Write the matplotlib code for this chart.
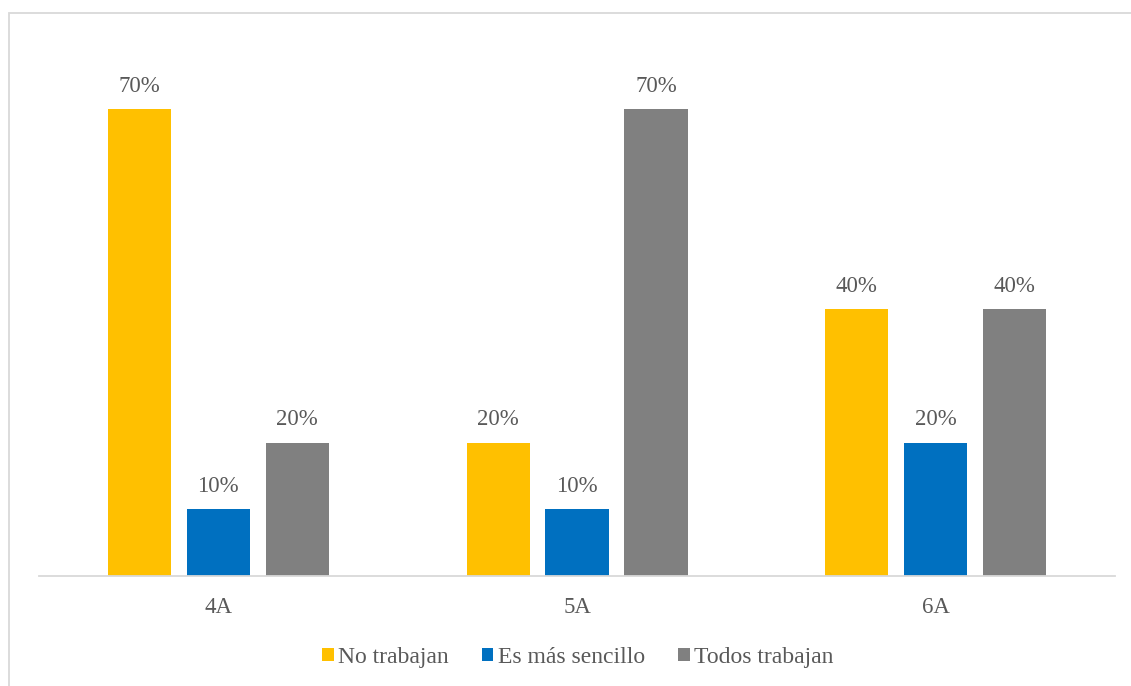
import matplotlib
matplotlib.use('Agg')
import matplotlib.pyplot as plt
import numpy as np
from matplotlib.patches import Rectangle

categories = ['4A', '5A', '6A']
series_names = ['No trabajan', 'Es más sencillo', 'Todos trabajan']
no_trabajan = [0.70, 0.20, 0.40]
es_mas_sencillo = [0.10, 0.10, 0.20]
todos_trabajan = [0.20, 0.70, 0.40]

colors = ['#FFC000', '#0070C0', '#808080']
TXT = '#595959'

plt.rcParams['font.family'] = ['Liberation Serif', 'DejaVu Serif']

fig = plt.figure(figsize=(11.31, 6.86), dpi=100)
ax = fig.add_axes([0.0345, 0.1603, 0.9514, 0.7779])

x = np.arange(len(categories))
width = 0.176
step = 0.22
for i, (vals, name, c) in enumerate(zip([no_trabajan, es_mas_sencillo, todos_trabajan],
                                        series_names, colors)):
    pos = x + (i - 1) * step
    bars = ax.bar(pos, vals, width, color=c, label=name)
    for b, v in zip(bars, vals):
        ax.annotate(f'{v:.0%}', (b.get_x() + b.get_width() / 2, v),
                    xytext=(0, 9), textcoords='offset points',
                    ha='center', va='bottom', fontsize=16.5, color=TXT)

ax.set_xlim(-0.5, 2.5)
ax.set_ylim(0, 0.8)
ax.set_yticks([])
ax.set_xticks(x)
ax.set_xticklabels(categories, fontsize=16.5, color=TXT)
ax.tick_params(axis='x', length=0, pad=15)
for s in ('top', 'right', 'left'):
    ax.spines[s].set_visible(False)
ax.spines['bottom'].set_color('#D9D9D9')
ax.spines['bottom'].set_linewidth(1.3)

leg = fig.legend(loc='center', bbox_to_anchor=(0.511, 0.042), ncol=3, frameon=False,
                 fontsize=17, handlelength=0.48, handleheight=0.48, handletextpad=0.2,
                 columnspacing=1.4)
for t in leg.get_texts():
    t.set_color(TXT)

# outer chart border (extends past the bottom/right edge)
fig.patches.append(Rectangle((9 / 1131, -0.05), 1.2, 1 - 13 / 686 + 0.05,
                             transform=fig.transFigure, fill=False,
                             edgecolor='#D9D9D9', linewidth=1.3))

fig.savefig('out.png', dpi=100)
